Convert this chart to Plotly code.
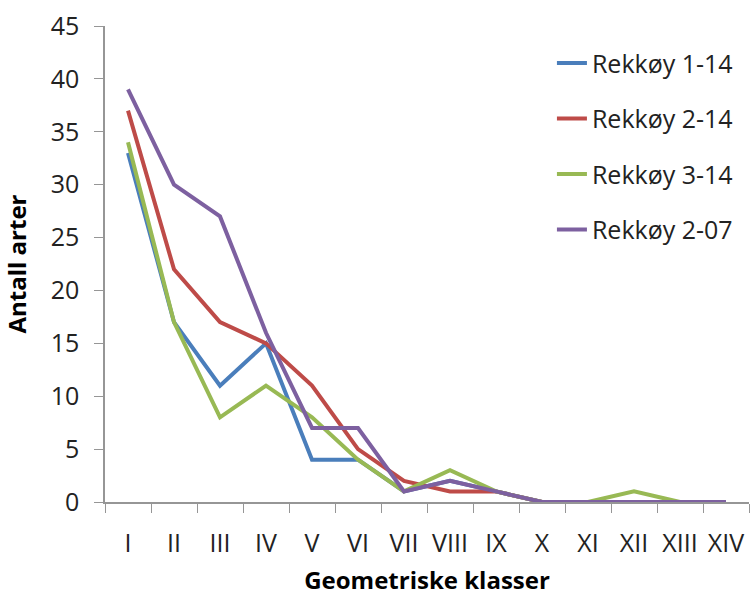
import plotly.graph_objects as go

categories = ["I", "II", "III", "IV", "V", "VI", "VII", "VIII", "IX", "X", "XI", "XII", "XIII", "XIV"]
rekkoy_1_14 = [33, 17, 11, 15, 4, 4, 1, 2, 1, 0, 0, 0, 0, 0]
rekkoy_2_14 = [37, 22, 17, 15, 11, 5, 2, 1, 1, 0, 0, 0, 0, 0]
rekkoy_3_14 = [34, 17, 8, 11, 8, 4, 1, 3, 1, 0, 0, 1, 0, 0]
rekkoy_2_07 = [39, 30, 27, 16, 7, 7, 1, 2, 1, 0, 0, 0, 0, 0]
y_ticks = [0, 5, 10, 15, 20, 25, 30, 35, 40, 45]

series = [
    ("Rekkøy 1-14", rekkoy_1_14, "#4A7EBB"),
    ("Rekkøy 2-14", rekkoy_2_14, "#BE4B48"),
    ("Rekkøy 3-14", rekkoy_3_14, "#98B954"),
    ("Rekkøy 2-07", rekkoy_2_07, "#7D60A0"),
]

fig = go.Figure()
for i, (name, vals, color) in enumerate(series):
    fig.add_trace(go.Scatter(
        x=categories, y=vals, mode="lines", name=name,
        line=dict(color=color, width=4), legendgroup=f"g{i}",
    ))

font_family = "'Open Sans', sans-serif"
fig.update_layout(
    width=752, height=596,
    margin=dict(l=105, r=3, t=26, b=94, autoexpand=False),
    paper_bgcolor="white", plot_bgcolor="white",
    font=dict(family=font_family, size=25, color="#222222"),
    showlegend=True,
    legend=dict(x=0.694, y=0.970, xanchor="left", yanchor="top",
                font=dict(size=25, color="#222222"), tracegroupgap=20,
                bgcolor="rgba(0,0,0,0)"),
    xaxis=dict(
        type="category", range=[-0.5, 13.5], showgrid=False, automargin=False,
        showline=True, linecolor="#969696", linewidth=1.5,
        ticks="outside", tickson="boundaries", ticklen=9, tickcolor="#969696",
        tickfont=dict(size=25), ticklabelstandoff=18,
        title=dict(text="<b>Geometriske klasser</b>", font=dict(size=24, color="#000000"), standoff=20),
    ),
    yaxis=dict(
        range=[0, 45], tickvals=y_ticks, showgrid=False, zeroline=False, automargin=False,
        showline=True, linecolor="#969696", linewidth=1.5,
        ticks="outside", ticklen=9, tickcolor="#969696",
        tickfont=dict(size=25), ticklabelstandoff=10,
        title=dict(text="<b>Antall arter</b>", font=dict(size=24, color="#000000"), standoff=20),
    ),
)

fig.write_html("out.html")
